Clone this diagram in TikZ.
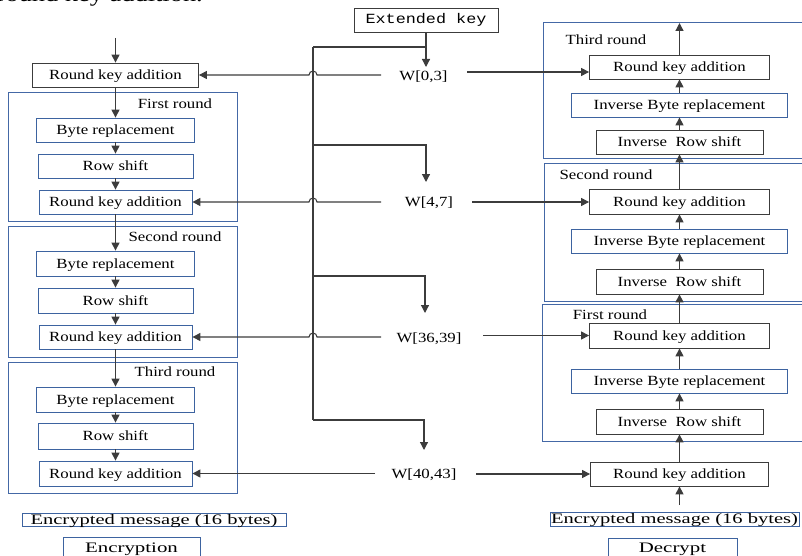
\documentclass[tikz,border=0pt]{standalone}
\usepackage{fontspec}
\setmainfont{Liberation Serif}[FakeStretch=1.2]
\newfontfamily\monofnt{Liberation Mono}[FakeStretch=1.2]
\usetikzlibrary{arrows.meta}
\definecolor{lc}{HTML}{3C3C3C}
\definecolor{fb}{HTML}{4468A6}
\definecolor{bb}{HTML}{3D63A0}
\tikzset{
  txt/.style={font=\fontsize{14}{16}\selectfont, inner sep=0pt, text height=12pt, text depth=3pt},
  gbox/.style={txt, draw=lc, line width=0.8pt, fill=white},
  bbox/.style={txt, draw=bb, line width=0.8pt, fill=white},
  frame/.style={draw=fb, line width=1pt, inner sep=0pt},
  big/.style={inner sep=0pt, text height=11pt, text depth=2pt, font=\fontsize{14.5}{16}\selectfont},
  ln/.style={draw=lc, line width=1.1pt},
  arr/.style={draw=lc, line width=1.2pt, -{Triangle[length=8pt,width=8pt]}},
  karr/.style={draw=lc, line width=1.05pt, -{Triangle[length=8pt,width=8pt]}},
}
\begin{document}
\begin{tikzpicture}[x=1pt,y=-1pt]
\useasboundingbox (0,0) rectangle (802,556);
\clip (0,0) rectangle (802,556);
% cropped text at top
\node[anchor=base east, inner sep=0pt, font=\fontsize{22}{24}\selectfont] (toptext) at (203,2) {round key addition.};

% ---------------- Encryption column ----------------
\node[gbox, minimum width=166pt, minimum height=24pt] (rk0) at (115.5,75) {Round key addition};
\node[frame, minimum width=229pt, minimum height=128pt] (f1) at (122.5,157) {};
\node[txt] (l1) at (175,104) {First round};
\node[bbox, minimum width=158pt, minimum height=24pt] (b1) at (115.5,130) {Byte replacement};
\node[bbox, minimum width=155pt, minimum height=24pt] (r1) at (115.5,166) {Row shift};
\node[bbox, minimum width=153pt, minimum height=24pt] (k1) at (115.5,202) {Round key addition};

\node[frame, minimum width=229pt, minimum height=131pt] (f2) at (122.5,291.5) {};
\node[txt] (l2) at (175,237) {Second round};
\node[bbox, minimum width=158pt, minimum height=25pt] (b2) at (115.5,263.5) {Byte replacement};
\node[bbox, minimum width=155pt, minimum height=25pt] (r2) at (115.5,300.5) {Row shift};
\node[bbox, minimum width=153pt, minimum height=24pt] (k2) at (115.5,337) {Round key addition};

\node[frame, minimum width=229pt, minimum height=131pt] (f3) at (122.5,427.5) {};
\node[txt] (l3) at (175,372) {Third round};
\node[bbox, minimum width=158pt, minimum height=25pt] (b3) at (115.5,399.5) {Byte replacement};
\node[bbox, minimum width=155pt, minimum height=26pt] (r3) at (115.5,436) {Row shift};
\node[bbox, minimum width=153pt, minimum height=25pt] (k3) at (115.5,473.5) {Round key addition};

\node[big, draw=bb, line width=0.8pt, minimum width=264pt, minimum height=13pt] (em1) at (154,519.5) {\scalebox{1.18}[1]{Encrypted message (16 bytes)}};
\node[big, draw=bb, line width=0.8pt, minimum width=137pt, minimum height=24pt] (enc) at (131.5,549) {};
\node[big, anchor=base] (enct) at (131.5,552) {\scalebox{1.2}[1]{Encryption}};

\coordinate (in) at (115.5,38);
\draw[arr] (in) -- (rk0.north);
\draw[arr] (rk0.south) -- (b1.north);
\draw[arr] (b1.south) -- (r1.north);
\draw[arr] (r1.south) -- (k1.north);
\draw[arr] (k1.south) -- (b2.north);
\draw[arr] (b2.south) -- (r2.north);
\draw[arr] (r2.south) -- (k2.north);
\draw[arr] (k2.south) -- (b3.north);
\draw[arr] (b3.south) -- (r3.north);
\draw[arr] (r3.south) -- (k3.north);

% ---------------- Key schedule ----------------
\node[draw=lc, line width=0.8pt, inner sep=0pt, minimum width=144pt, minimum height=24pt, text height=11pt, text depth=3pt, font=\monofnt\fontsize{14}{16}\selectfont] (ek) at (426,20) {Extended key};
\node[txt] (w0) at (423.5,76) {W[0,3]};
\node[txt] (w1) at (429,202) {W[4,7]};
\node[txt] (w2) at (429,338) {W[36,39]};
\node[txt] (w3) at (424,474) {W[40,43]};

\coordinate (t0) at (313,47);
\coordinate (tb1) at (313,145);
\coordinate (tb2) at (313,276);
\coordinate (t3) at (313,420);
\coordinate (a0) at (426,67);
\coordinate (a1) at (426,182);
\coordinate (a2) at (425,313);
\coordinate (a3) at (424,450);
\draw[ln] (t0) -- (t3);
\draw[ln] (t0) -- (t0 -| ek.south);
\draw[arr] (ek.south) -- (a0);
\draw[arr] (tb1) -| (a1);
\draw[arr] (tb2) -| (a2);
\draw[arr] (t3) -| (a3);

% left key lines (with hops over the trunk)
\coordinate (ls0) at (381,75);
\coordinate (ls1) at (381,202);
\coordinate (ls2) at (381,337);
\coordinate (ls3) at (375,473.5);
\draw[karr] (ls0) -- (317,75) arc[start angle=0,end angle=-180,radius=4] -- (ls0 -| rk0.east);
\draw[karr] (ls1) -- (317,202) arc[start angle=0,end angle=-180,radius=4] -- (ls1 -| k1.east);
\draw[karr] (ls2) -- (317,337) arc[start angle=0,end angle=-180,radius=4] -- (ls2 -| k2.east);
\draw[karr] (ls3) -- (ls3 -| k3.east);

% ---------------- Decryption column ----------------
\node[frame, minimum width=267pt, minimum height=136pt] (F3) at (676.5,91) {};
\node[txt] (L3) at (606,40) {Third round};
\node[gbox, minimum width=180pt, minimum height=24pt] (rkR3) at (679.5,67) {Round key addition};
\node[bbox, minimum width=216pt, minimum height=24pt] (ibR3) at (679.5,105) {Inverse Byte replacement};
\node[gbox, minimum width=167pt, minimum height=24pt] (irR3) at (679.5,142) {Inverse\ \ Row shift};

\node[frame, minimum width=266pt, minimum height=137pt] (F2) at (677,232.5) {};
\node[txt] (L2) at (606,175) {Second round};
\node[gbox, minimum width=180pt, minimum height=25pt] (rkR2) at (679.5,201.5) {Round key addition};
\node[bbox, minimum width=216pt, minimum height=24pt] (ibR2) at (679.5,241) {Inverse Byte replacement};
\node[gbox, minimum width=167pt, minimum height=25pt] (irR2) at (679.5,281.5) {Inverse\ \ Row shift};

\node[frame, minimum width=268pt, minimum height=137pt] (F1) at (676,372.5) {};
\node[txt] (L1) at (610,315) {First round};
\node[gbox, minimum width=180pt, minimum height=25pt] (rkR1) at (679.5,335.5) {Round key addition};
\node[bbox, minimum width=216pt, minimum height=24pt] (ibR1) at (679.5,381) {Inverse Byte replacement};
\node[gbox, minimum width=167pt, minimum height=25pt] (irR1) at (679.5,421.5) {Inverse\ \ Row shift};

\node[gbox, minimum width=178pt, minimum height=24pt] (rkR0) at (679.5,474) {Round key addition};
\node[big, draw=bb, line width=0.8pt, minimum width=249pt, minimum height=14pt] (emR) at (674.5,519) {\scalebox{1.18}[1]{Encrypted message (16 bytes)}};
\node[big, draw=bb, line width=0.8pt, minimum width=129pt, minimum height=24pt] (dec) at (672.5,550) {};
\node[big, anchor=base] (dect) at (672.5,552) {\scalebox{1.2}[1]{Decrypt}};

\coordinate (rin) at (679.5,505);
\coordinate (rout) at (679.5,23);
\draw[arr] (rin) -- (rkR0.south);
\draw[arr] (rkR0.north) -- (irR1.south);
\draw[arr] (irR1.north) -- (ibR1.south);
\draw[arr] (ibR1.north) -- (rkR1.south);
\draw[arr] (rkR1.north) -- (irR2.south);
\draw[arr] (irR2.north) -- (ibR2.south);
\draw[arr] (ibR2.north) -- (rkR2.south);
\draw[arr] (rkR2.north) -- (irR3.south);
\draw[arr] (irR3.north) -- (ibR3.south);
\draw[arr] (ibR3.north) -- (rkR3.south);
\draw[arr] (rkR3.north) -- (rout);

% right key lines
\coordinate (rs0) at (467,72);
\coordinate (rs1) at (472,202);
\coordinate (rs2) at (483,335.5);
\coordinate (rs3) at (476,474);
\draw[karr] (rs0) -- (rs0 -| rkR3.west);
\draw[karr] (rs1) -- (rs1 -| rkR2.west);
\draw[karr] (rs2) -- (rs2 -| rkR1.west);
\draw[karr] (rs3) -- (rs3 -| rkR0.west);
\end{tikzpicture}
\end{document}
